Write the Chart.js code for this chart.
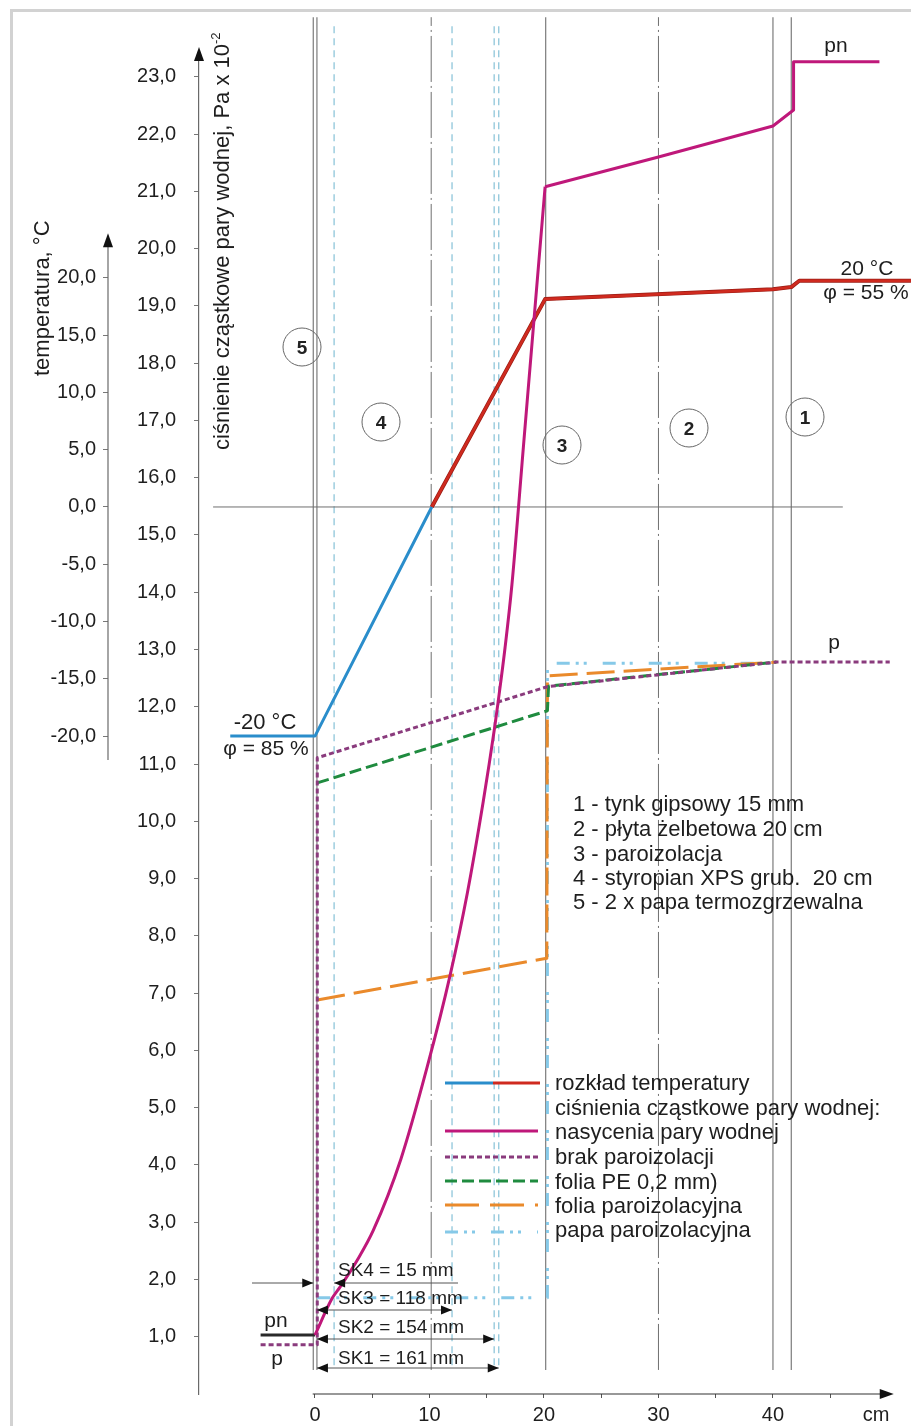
<!DOCTYPE html>
<html lang="pl">
<head>
<meta charset="utf-8">
<title>Rozkład temperatury i ciśnień pary wodnej</title>
<script src="https://cdn.jsdelivr.net/npm/chart.js@4.4.0/dist/chart.umd.min.js"></script>
<style>
html,body{margin:0;padding:0;background:#fff;overflow:hidden;}
#wrap{position:relative;width:911px;height:1426px;overflow:hidden;background:#fff;}
#frame{position:absolute;left:10px;top:9px;width:1000px;height:1600px;border:3px solid #d2d2d2;}
#c{position:absolute;left:0;top:0;}
.t{position:absolute;font-family:'Liberation Sans',Arial,sans-serif;color:#1e1e1e;white-space:pre;line-height:1;}
.c{transform:translate(-50%,-50%);}
.l{transform:translateY(-50%);}
.v{transform-origin:0 0;transform:rotate(-90deg) translateY(-50%);}
.circ{position:absolute;width:39px;height:39px;border:1px solid #666;border-radius:50%;box-sizing:border-box;transform:translate(-50%,-50%);display:flex;align-items:center;justify-content:center;font-family:'Liberation Sans',Arial,sans-serif;font-weight:bold;font-size:19px;color:#222;}
sup{font-size:13px;line-height:0;vertical-align:9px;}
</style>
</head>
<body>
<div id="wrap">
  <div id="frame"></div>
  <canvas id="c" width="911" height="1426"></canvas>
  <div id="ann"></div>
</div>
<script>
// ---------------- data ----------------
const X_TICKS = [0, 5, 10, 15, 20, 25, 30, 35, 40, 45];
const X_LABELED = [0, 10, 20, 30, 40];
const X_UNIT = 'cm';
const X_UNIT_AT = 49;
const P_TICKS = [1,2,3,4,5,6,7,8,9,10,11,12,13,14,15,16,17,18,19,20,21,22,23];
const T_TICKS = [-20, -15, -10, -5, 0, 5, 10, 15, 20];

// rozkład temperatury (x w cm, T w °C)
const tOutX = [-7.4, 0, 10.2];
const tOutT = [-20, -20, 0];
const tInX  = [10.2, 20.1, 40, 41.6, 42.3, 52.05];
const tInT  = [0, 18.15, 19.0, 19.2, 19.75, 19.75];

// ciśnienie nasycenia pn (hPa)
const pnOutX  = [-4.75, 0];
const pnOutP  = [1.03, 1.03];
const pnWallX = [0, 1.5, 2.2, 3.7, 5.1, 7.5, 9.8, 11.8, 13.3, 14.7, 15.7, 16.0, 16.6, 17.2, 18.2, 19.2, 20.1];
const pnWallP = [1.03, 1.67, 1.87, 2.34, 2.86, 4.1, 5.71, 7.31, 8.74, 10.35, 11.65, 12.09, 13.03, 14.13, 16.53, 18.93, 21.08];
const pnInX   = [20.1, 30, 40, 41.8, 41.8, 49.3];
const pnInP   = [21.08, 21.6, 22.14, 22.42, 23.26, 23.26];

// ciśnienia cząstkowe p
const pBrakX  = [-4.75, 0.2, 0.2, 20.3, 40.3, 50.2];
const pBrakP  = [0.86, 0.86, 11.11, 12.35, 12.78, 12.78];
const pPEX    = [0.2, 20.3, 20.4, 40.3];
const pPEP    = [10.67, 11.93, 12.36, 12.78];
const pFoliaX = [0.2, 20.25, 20.3, 40.3];
const pFoliaP = [6.88, 7.61, 12.54, 12.78];
const pPapaX  = [0.2, 20.3, 20.3, 40];
const pPapaP  = [1.68, 1.68, 12.76, 12.76];

// warstwy i strefy kondensacji
const LAYER_X = [-0.15, 0.17, 20.15, 40, 41.6];
const MID_X = [10.15, 30];
const SK_NAMES = ['SK1', 'SK2', 'SK3', 'SK4'];
const SK_MM = [161, 154, 118, 15];
const SK_X = [16.05, 15.65, 11.97, 1.67];
const ZERO_LINE_X = [-8.9, 46.1];

const LAYERS = ['1 - tynk gipsowy 15 mm', '2 - płyta żelbetowa 20 cm', '3 - paroizolacja',
  '4 - styropian XPS grub.  20 cm', '5 - 2 x papa termozgrzewalna'];
const LEGEND = ['rozkład temperatury', 'ciśnienia cząstkowe pary wodnej:', 'nasycenia pary wodnej',
  'brak paroizolacji', 'folia PE 0,2 mm)', 'folia paroizolacyjna', 'papa paroizolacyjna'];

// ---------------- styles / layout ----------------
const MAGENTA = '#bf187a', RED = '#cf2a1f', BLUE = '#2a8dcb', PURPLE = '#8a3b7d',
      GREEN = '#1f8b3f', ORANGE = '#ea8a2b', LBLUE = '#86c9e8', DARK = '#2a2a2a';
const X_VIEW = [-10.13, 50.31];
const P_VIEW = [0, 23.38];
const T_VIEW = [-77.44, 39.46];
const V_SPAN = [0.42, 24.04];
const SK_SPAN = [0.5, 23.9];

const fmt = v => v.toFixed(1).replace('.', ',');
const pts = (xs, ys) => xs.map((x, i) => ({x, y: ys[i]}));
function ds(xs, ys, color, extra) {
  return Object.assign({data: pts(xs, ys), borderColor: color, backgroundColor: color, borderWidth: 3,
    showLine: true, pointRadius: 0, pointHoverRadius: 0, fill: false, clip: false, tension: 0,
    xAxisID: 'x', yAxisID: 'y', borderCapStyle: 'butt', borderJoinStyle: 'round'}, extra || {});
}
const fixRange = (lo, hi) => s => { s.min = lo; s.max = hi; };

const datasets = [
  ds(pnWallX, pnWallP, MAGENTA, {cubicInterpolationMode: 'monotone'}),
  ds(pnInX, pnInP, MAGENTA),
  ds(pnOutX, pnOutP, DARK),
  ds(tOutX, tOutT, BLUE, {yAxisID: 'yT'}),
  ds(tInX, tInT, RED, {yAxisID: 'yT', borderWidth: 2.6}),
  ds(tInX, tInT, '#9a1c14', {yAxisID: 'yT', borderWidth: 4}),
  ds(pBrakX, pBrakP, PURPLE, {borderDash: [5, 3]}),
  ds(pPEX, pPEP, GREEN, {borderDash: [12, 5]}),
  ds(pFoliaX, pFoliaP, ORANGE, {borderDash: [28, 9]}),
  ds(pPapaX, pPapaP, LBLUE, {borderDash: [13, 6, 3, 5, 3, 16]}),
  ds(ZERO_LINE_X, [0, 0], '#6f6f6f', {yAxisID: 'yT', borderWidth: 1}),
  ...LAYER_X.map(v => ds([v, v], V_SPAN, '#7b7b7b', {borderWidth: 1.2})),
  ...MID_X.map(v => ds([v, v], V_SPAN, '#6f6f6f', {borderWidth: 1, borderDash: [46, 4, 2, 4]})),
  ...SK_X.map(v => ds([v, v], SK_SPAN, '#8fc6da', {borderWidth: 1.3, borderDash: [7, 5]}))
];

function tri(ctx, tx, ty, dir, len, hw) {
  ctx.beginPath();
  ctx.moveTo(tx, ty);
  if (dir === 'up') { ctx.lineTo(tx - hw, ty + len); ctx.lineTo(tx + hw, ty + len); }
  else if (dir === 'right') { ctx.lineTo(tx - len, ty - hw); ctx.lineTo(tx - len, ty + hw); }
  else { ctx.lineTo(tx + len, ty - hw); ctx.lineTo(tx + len, ty + hw); }
  ctx.closePath();
  ctx.fill();
}
function seg(ctx, x0, y0, x1, y1) { ctx.beginPath(); ctx.moveTo(x0, y0); ctx.lineTo(x1, y1); ctx.stroke(); }

const SK_ROWS = [1368, 1339, 1310, 1283];
const LEG_ROWS = [1083, 1108, 1132, 1157, 1182, 1206, 1230];

const decor = {
  id: 'decor',
  afterDatasetsDraw(chart) {
    const {ctx, chartArea} = chart;
    const x = chart.scales.x, y = chart.scales.y, yT = chart.scales.yT;
    ctx.save();
    ctx.fillStyle = '#111';
    ctx.strokeStyle = '#6a6a6a';
    ctx.lineWidth = 1.2;
    // temperature axis line + arrow
    const tx = yT.right;
    seg(ctx, tx, yT.getPixelForValue(-22.1), tx, yT.getPixelForValue(23.0));
    tri(ctx, tx, yT.getPixelForValue(23.9), 'up', 14, 5);
    // pressure axis arrow
    tri(ctx, chartArea.left, y.getPixelForValue(23.52), 'up', 14, 5);
    // x axis line + arrow
    ctx.strokeStyle = '#333';
    const y0 = y.getPixelForValue(0);
    seg(ctx, x.getPixelForValue(-0.2), y0, x.getPixelForValue(50.3), y0);
    tri(ctx, x.getPixelForValue(50.55), y0, 'right', 14, 5);

    // SK dimension lines
    ctx.strokeStyle = '#555';
    ctx.lineWidth = 1;
    const xl = x.getPixelForValue(0.17);
    for (let i = 0; i < 3; i++) {
      const yy = SK_ROWS[i], xr = x.getPixelForValue(SK_X[i]);
      seg(ctx, xl, yy, xr, yy);
      tri(ctx, xl, yy, 'left', 11, 4.5);
      tri(ctx, xr, yy, 'right', 11, 4.5);
    }
    {
      const yy = SK_ROWS[3], xa = x.getPixelForValue(-0.15), xb = x.getPixelForValue(SK_X[3]);
      seg(ctx, 252, yy, xa, yy);
      tri(ctx, xa, yy, 'right', 11, 4.5);
      seg(ctx, xb, yy, 458, yy);
      tri(ctx, xb, yy, 'left', 11, 4.5);
    }

    // legend samples
    const L0 = 445, L1 = 538;
    ctx.lineWidth = 3;
    ctx.lineCap = 'butt';
    const sample = (yy, color, dash, a, b) => {
      ctx.strokeStyle = color; ctx.setLineDash(dash);
      seg(ctx, a, yy, b, yy);
    };
    sample(LEG_ROWS[0], BLUE, [], L0, 493);
    sample(LEG_ROWS[0], RED, [], 493, 540);
    sample(LEG_ROWS[2] - 1, MAGENTA, [], L0, L1);
    sample(LEG_ROWS[3], PURPLE, [5, 3], L0, L1);
    sample(LEG_ROWS[4] - 1, GREEN, [12, 5], L0, L1);
    sample(LEG_ROWS[5] - 1, ORANGE, [34, 11], L0, L1);
    sample(LEG_ROWS[6] + 2, LBLUE, [13, 6, 3, 5, 3, 16], L0, L1);
    ctx.setLineDash([]);
    ctx.restore();
  }
};

Chart.defaults.font.family = "'Liberation Sans', Arial, sans-serif";
Chart.defaults.font.size = 20;
Chart.defaults.color = '#1e1e1e';

new Chart(document.getElementById('c'), {
  type: 'scatter',
  data: {datasets},
  options: {
    responsive: false,
    animation: false,
    devicePixelRatio: 1,
    events: [],
    layout: {padding: {left: 0, top: 55, right: 20, bottom: 0}},
    plugins: {legend: {display: false}, tooltip: {enabled: false}, title: {display: false}},
    elements: {point: {radius: 0}},
    scales: {
      x: {
        type: 'linear', position: 'bottom', bounds: 'data',
        afterDataLimits: fixRange(X_VIEW[0], X_VIEW[1]),
        afterBuildTicks: s => { s.ticks = X_TICKS.concat([X_UNIT_AT]).map(v => ({value: v})); },
        afterFit: s => { s.height = 32; },
        ticks: {autoSkip: false, maxRotation: 0, minRotation: 0, padding: 5, font: {size: 20}, color: '#1e1e1e',
          callback: v => v === X_UNIT_AT ? X_UNIT : (X_LABELED.includes(v) ? String(v) : '')},
        grid: {drawOnChartArea: false, drawTicks: true, tickLength: 4, tickWidth: 1,
          tickColor: c => (c.tick && c.tick.value === X_UNIT_AT) ? 'rgba(0,0,0,0)' : '#555'},
        border: {display: false}
      },
      y: {
        type: 'linear', position: 'left', weight: 1, bounds: 'data',
        afterDataLimits: fixRange(P_VIEW[0], P_VIEW[1]),
        afterBuildTicks: s => { s.ticks = P_TICKS.map(v => ({value: v})); },
        afterFit: s => { s.width = 91; },
        ticks: {autoSkip: false, padding: 18, font: {size: 20}, color: '#1e1e1e', callback: v => fmt(v)},
        grid: {drawOnChartArea: false, tickLength: 5, tickColor: '#777'},
        border: {display: true, color: '#6a6a6a', width: 1.2}
      },
      yT: {
        type: 'linear', position: 'left', weight: 2, bounds: 'data',
        afterDataLimits: fixRange(T_VIEW[0], T_VIEW[1]),
        afterBuildTicks: s => { s.ticks = T_TICKS.map(v => ({value: v})); },
        afterFit: s => { s.width = 108; },
        ticks: {autoSkip: false, padding: 7, font: {size: 20}, color: '#1e1e1e', callback: v => fmt(v)},
        grid: {drawOnChartArea: false, tickLength: 5, tickColor: '#777'},
        border: {display: false}
      }
    }
  },
  plugins: [decor]
});

// ---------------- text annotations ----------------
const ann = document.getElementById('ann');
function txt(t, x, y, size, cls, html) {
  const d = document.createElement('div');
  d.className = 't ' + cls;
  d.style.left = x + 'px'; d.style.top = y + 'px'; d.style.fontSize = size + 'px';
  if (html) d.innerHTML = t; else d.textContent = t;
  ann.appendChild(d);
}
txt('temperatura, °C', 42, 376, 22, 'v');
txt('ciśnienie cząstkowe pary wodnej, Pa x 10<sup>-2</sup>', 222, 450, 22, 'v', true);
txt('pn', 836, 44, 21, 'c');
txt('20 °C', 867, 267, 21, 'c');
txt('φ = 55 %', 866, 291, 21, 'c');
txt('p', 834, 641, 21, 'c');
txt('-20 °C', 265, 722, 22, 'c');
txt('φ = 85 %', 266, 747, 21, 'c');
txt('pn', 276, 1319, 21, 'c');
txt('p', 277, 1357, 21, 'c');
LAYERS.forEach((s, i) => txt(s, 573, [804, 829, 854, 878, 902][i], 22, 'l'));
LEGEND.forEach((s, i) => txt(s, 555, LEG_ROWS[i], 22, 'l'));
const SK_TEXT_Y = [1357, 1326, 1297, 1269];
SK_NAMES.forEach((n, i) => txt(n + ' = ' + SK_MM[i] + ' mm', 338, SK_TEXT_Y[i], 19, 'l'));
[['5', 302, 347], ['4', 381, 422], ['3', 562, 445], ['2', 689, 428], ['1', 805, 417]].forEach(c => {
  const d = document.createElement('div');
  d.className = 'circ'; d.textContent = c[0];
  d.style.left = c[1] + 'px'; d.style.top = c[2] + 'px';
  ann.appendChild(d);
});
</script>
</body>
</html>
